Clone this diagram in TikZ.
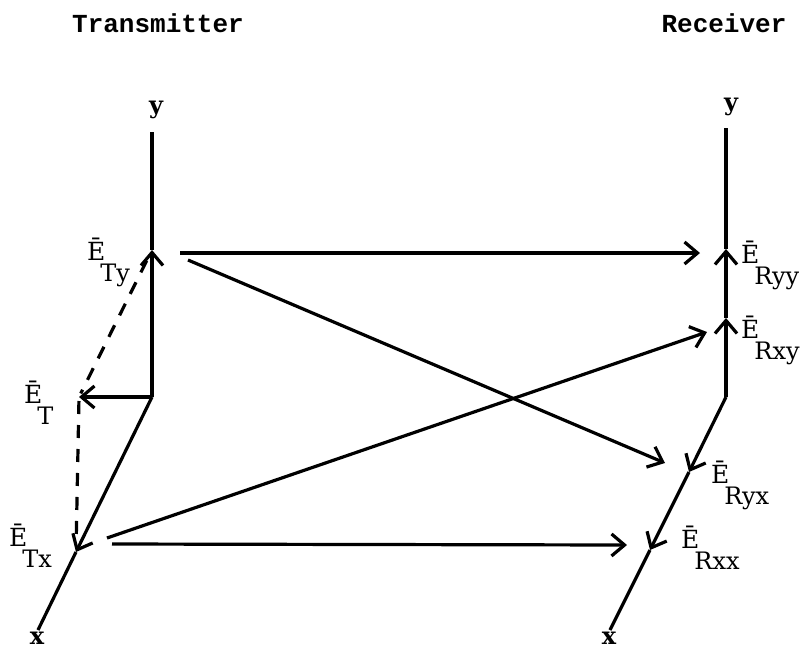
\documentclass[tikz,border=0pt]{standalone}
\usepackage{fontspec}
\setmainfont{DejaVu Serif}
\setmonofont{Liberation Mono}
\usepackage{tikz}
\usetikzlibrary{arrows.meta, positioning}

% field component label: E with bar, subscript dropped below
\newcommand{\Efield}[1]{\=E\kern-5pt\raisebox{-21pt}{\fontsize{24}{24}\selectfont #1}}

\begin{document}
\begin{tikzpicture}[x=1pt, y=-1pt,
  font=\fontsize{25}{28}\selectfont,
  % axes = plain thick lines
  axis/.style={line width=3.2pt},
  % field vectors and signal paths = open barb heads
  arrow/.style={line width=3.2pt, -{Straight Barb[length=13pt, width=22pt]}},
  % parallelogram construction = dashed
  construct/.style={line width=3.2pt, dash pattern=on 13pt off 11pt},
  heading/.style={font=\fontsize{26}{30}\selectfont\ttfamily\bfseries, anchor=base},
  axlabel/.style={font=\fontsize{24}{28}\selectfont\bfseries, inner sep=0pt},
  complabel/.style={anchor=base west, inner sep=0pt}
]
\useasboundingbox (0,0) rectangle (809,649);

% ---- Headings ----
\node[heading] (thead) at (158,32) {Transmitter};
\node[heading] (rhead) at (724,32) {Receiver};

% ---- Transmitter axes ----
\coordinate (OT) at (152,397);
\coordinate (Ty) at (152,250);
\coordinate (yT) at (152,132);
\coordinate (T)  at (79,397);
\coordinate (Tx) at (76,552);
\coordinate (xT) at (38,630);
\node[axlabel] (yTlab) at (156,110) {y};
\node[axlabel] (xTlab) at (37,638) {x};

% ---- Receiver axes ----
\coordinate (OR)  at (726,397);
\coordinate (Rxy) at (726,318);
\coordinate (Ryy) at (726,249);
\coordinate (yR)  at (726,128);
\coordinate (Ryx) at (689,472);
\coordinate (Rxx) at (650,550);
\coordinate (xR)  at (610,630);
\node[axlabel] (yRlab) at (731,107) {y};
\node[axlabel] (xRlab) at (609,638) {x};

% ---- Transmitted field ----
\draw[arrow] (OT) -- (Ty);
\draw[axis] (Ty) -- (yT);
\draw[arrow] (OT) -- (T);
\draw[arrow] (OT) -- (Tx);
\draw[axis] (Tx) -- (xT);
\draw[construct, shorten <=12pt, shorten >=4pt] (Ty) -- (T);
\draw[construct, shorten <=4pt, shorten >=8pt] (T) -- (Tx);

\node[complabel] (ETy) at (87,260) {\Efield{Ty}};
\node[complabel] (ET)  at (24,403) {\Efield{T}};
\node[complabel] (ETx) at (9,546) {\Efield{Tx}};

% ---- Received field ----
\draw[arrow] (OR) -- (Rxy);
\draw[arrow] (Rxy) -- (Ryy);
\draw[axis] (Ryy) -- (yR);
\draw[arrow] (OR) -- (Ryx);
\draw[arrow] (Ryx) -- (Rxx);
\draw[axis] (Rxx) -- (xR);

\node[complabel] (ERyy) at (741,263) {\Efield{Ryy}};
\node[complabel] (ERxy) at (741,338) {\Efield{Rxy}};
\node[complabel] (ERyx) at (711,483) {\Efield{Ryx}};
\node[complabel] (ERxx) at (681,548) {\Efield{Rxx}};

% ---- Coupling paths ----
\draw[arrow] ([shift={(28,3)}]Ty) -- ([shift={(-26,4)}]Ryy);
\draw[arrow] ([shift={(36,10)}]Ty) -- ([shift={(-24,-9)}]Ryx);
\draw[arrow] ([shift={(31,-14)}]Tx) -- ([shift={(-19,14)}]Rxy);
\draw[arrow] ([shift={(36,-8)}]Tx) -- ([shift={(-23,-5)}]Rxx);

\end{tikzpicture}
\end{document}
